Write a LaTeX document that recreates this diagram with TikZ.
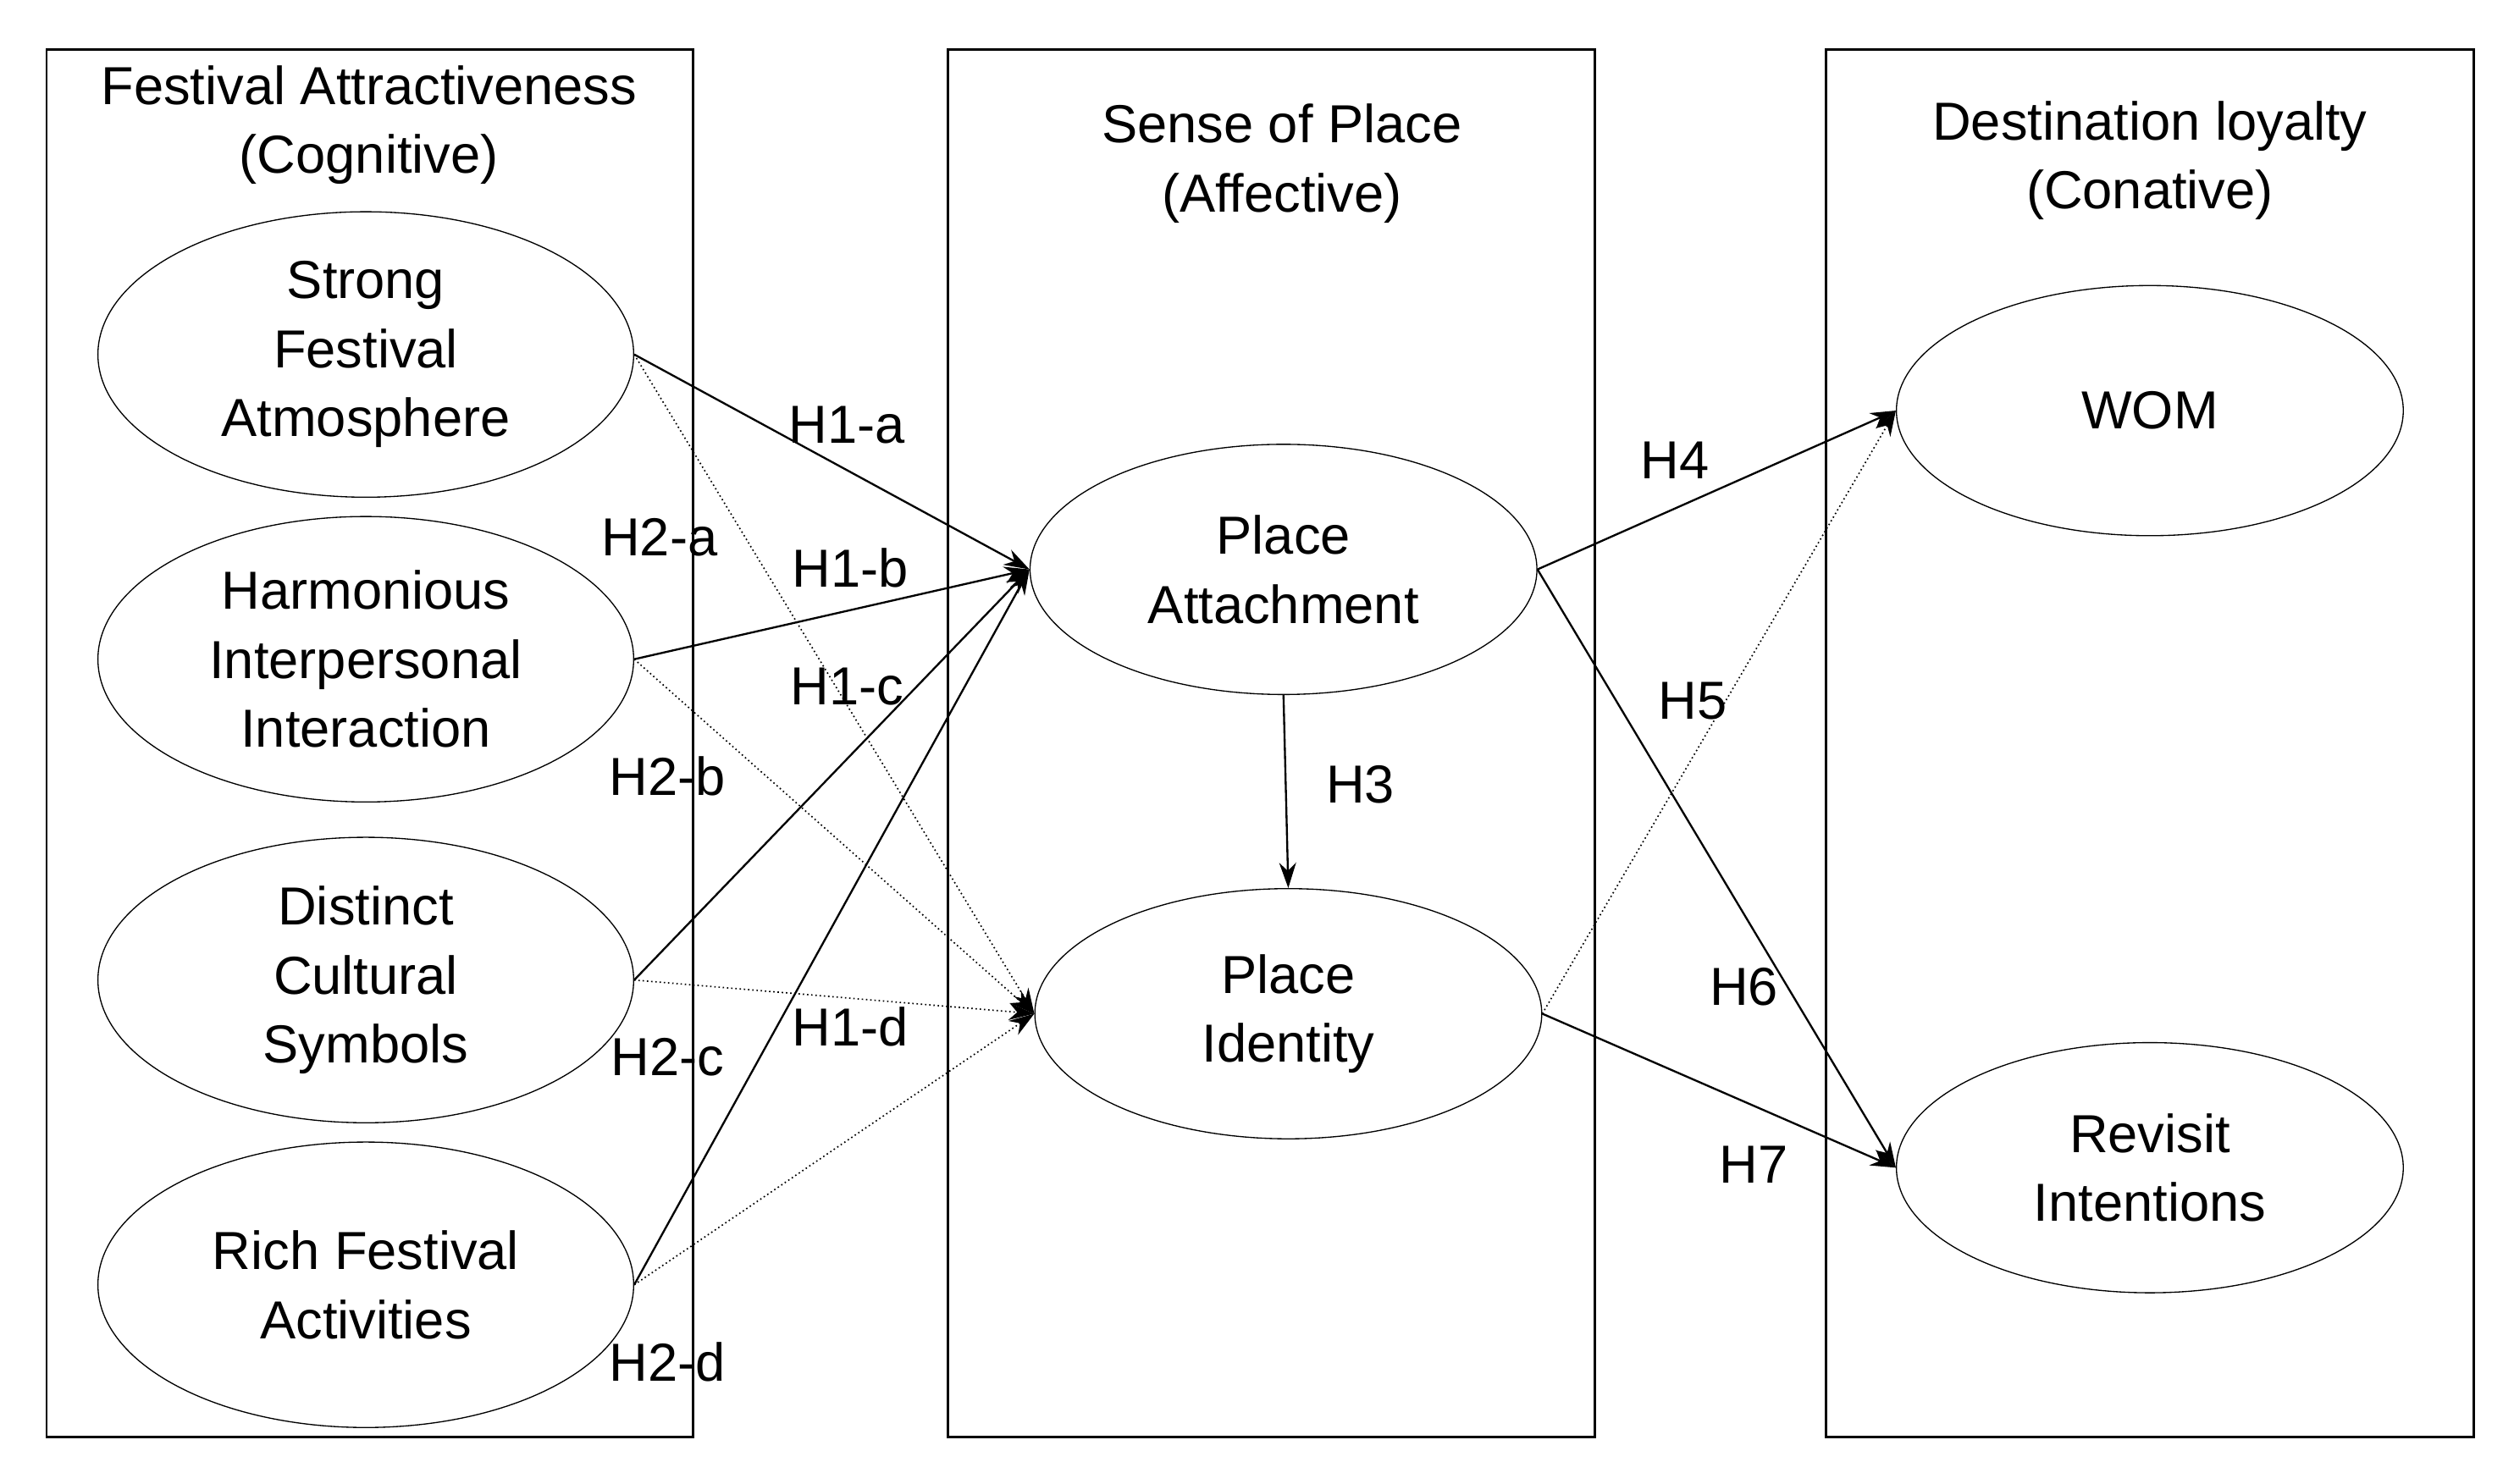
\documentclass[tikz,border=0pt]{standalone}
\usepackage{fontspec}
\setmainfont{Liberation Sans}
\usetikzlibrary{shapes.geometric,arrows.meta}
\begin{document}
\begin{tikzpicture}[x=0.02cm,y=-0.02cm,
  every node/.style={font=\fontsize{19}{24.5}\selectfont},
  big/.style={draw,ellipse,minimum width=6.68cm,minimum height=3.56cm,align=center,inner sep=0pt},
  sm/.style={draw,ellipse,minimum width=6.32cm,minimum height=3.12cm,align=center,inner sep=0pt},
  box/.style={draw,line width=0.8pt},
  ar/.style={-{Stealth[length=9pt,width=6pt]},line width=0.7pt},
  dar/.style={-{Stealth[length=9pt,width=6pt]},densely dotted,line width=0.5pt},
  lab/.style={inner sep=1pt}]
\useasboundingbox (0,0) rectangle (1567,925);
\draw[box] (29,31) rectangle (432,896);
\draw[box] (591,31) rectangle (994,896);
\draw[box] (1138,31) rectangle (1542,896);
\node[align=center] (t1) at (230,78) {Festival Attractiveness\\(Cognitive)};
\node[align=center] (t2) at (799,102) {Sense of Place\\(Affective)};
\node[align=center] (t3) at (1340,100) {Destination loyalty\\(Conative)};
\node[big] (s) at (228,221) {Strong\\Festival\\Atmosphere};
\node[big] (h) at (228,411) {Harmonious\\Interpersonal\\Interaction};
\node[big] (d) at (228,611) {Distinct\\Cultural\\Symbols};
\node[big] (r) at (228,801) {Rich Festival\\Activities};
\node[sm] (pa) at (800,355) {Place\\Attachment};
\node[sm] (pi) at (803,632) {Place\\Identity};
\node[sm] (w) at (1340,256) {WOM};
\node[sm] (rv) at (1340,728) {Revisit\\Intentions};
\foreach \n in {s,h,d,r}{
  \draw[ar] (\n.east) -- (pa.west);
  \draw[dar] (\n.east) -- (pi.west);}
\draw[ar] (pa.south) -- (pi.north);
\draw[ar] (pa.east) -- (w.west);
\draw[dar] (pi.east) -- (w.west);
\draw[ar] (pa.east) -- (rv.west);
\draw[ar] (pi.east) -- (rv.west);
\node[lab] (a1) at (528,265) {H1-a};
\node[lab] (a2) at (530,354) {H1-b};
\node[lab] (a3) at (528,428) {H1-c};
\node[lab] (a4) at (530,640) {H1-d};
\node[lab] (b1) at (411,335) {H2-a};
\node[lab] (b2) at (416,484) {H2-b};
\node[lab] (b3) at (416,659) {H2-c};
\node[lab] (b4) at (416,849) {H2-d};
\node[lab] (c3) at (848,489) {H3};
\node[lab] (c4) at (1044,287) {H4};
\node[lab] (c5) at (1055,437) {H5};
\node[lab] (c6) at (1087,615) {H6};
\node[lab] (c7) at (1093,726) {H7};
\end{tikzpicture}
\end{document}
